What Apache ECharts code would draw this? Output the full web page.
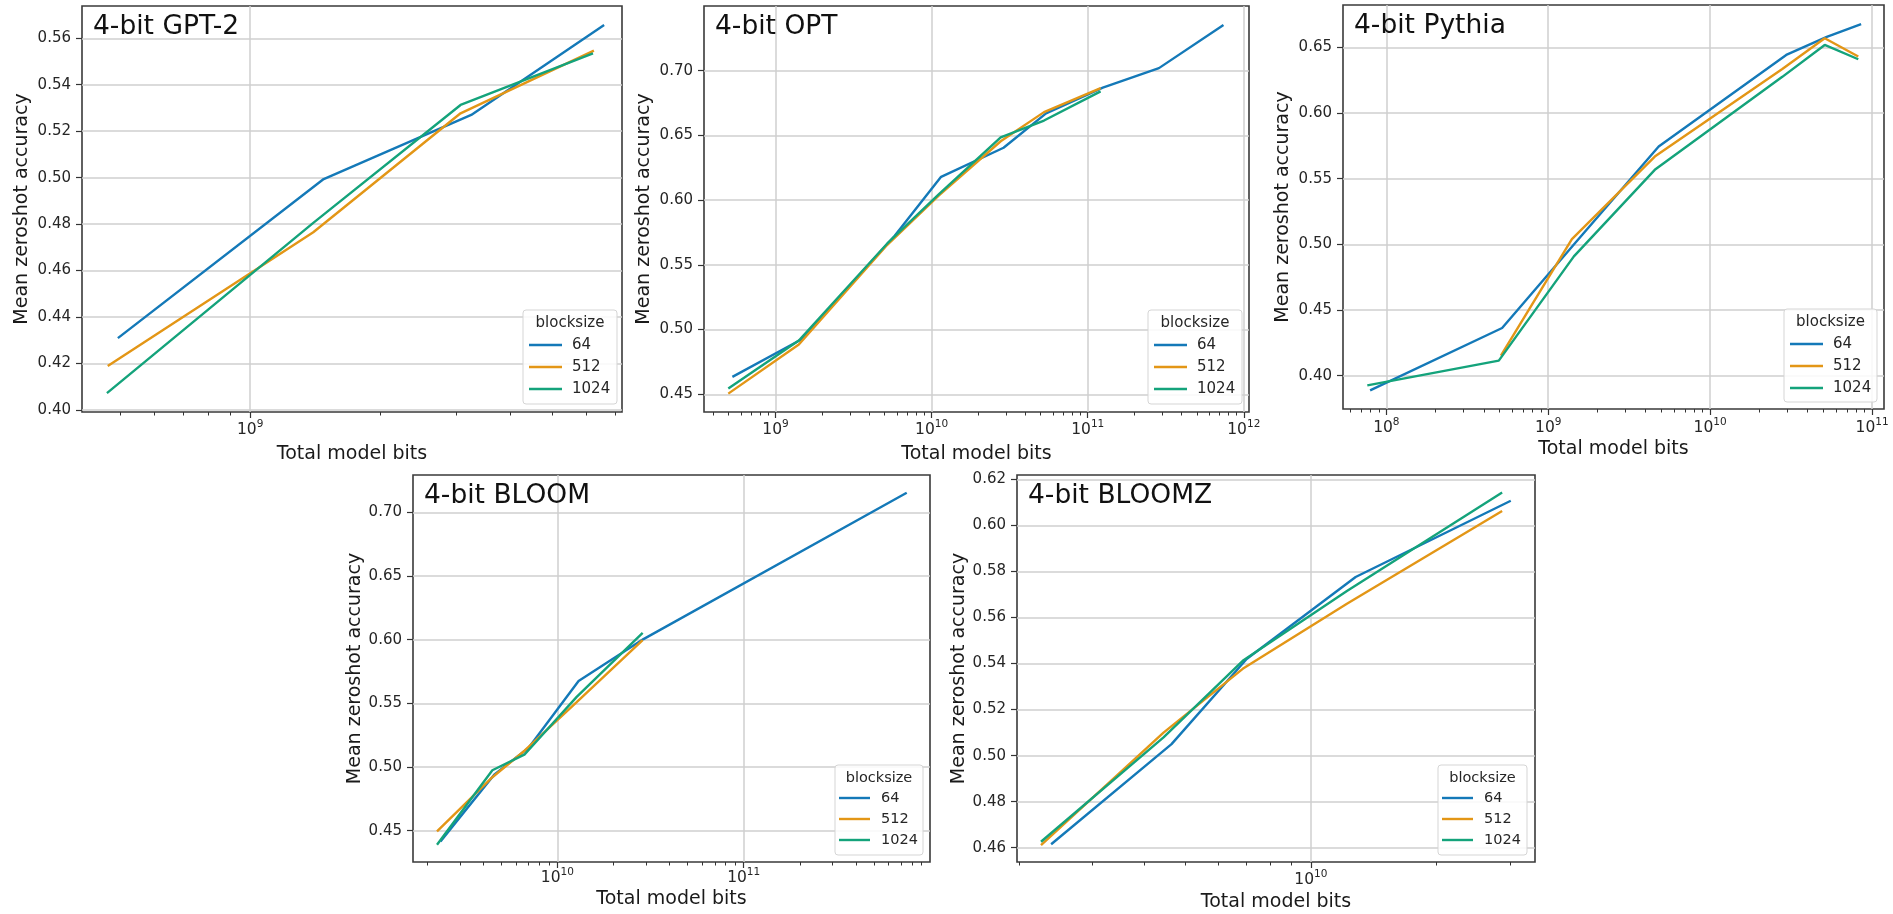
<!DOCTYPE html>
<html>
<head>
<meta charset="utf-8">
<script src="https://cdn.jsdelivr.net/npm/echarts@6.0.0/dist/echarts.min.js"></script>
<style>
html,body{margin:0;padding:0;background:#ffffff;}
#c{width:1893px;height:914px;}
</style>
</head>
<body>
<div id="c"></div>
<script>
// ---------------- DATA ----------------
const blocksizes = ['64', '512', '1024'];
const xAxisTitle = 'Total model bits';
const yAxisTitle = 'Mean zeroshot accuracy';
const legendTitle = 'blocksize';

// 4-bit GPT-2
const gpt2_x64   = [4.94e8, 1.48e9, 3.25e9, 6.60e9];
const gpt2_y64   = [0.4309, 0.4994, 0.5270, 0.5657];
const gpt2_x512  = [4.68e8, 1.40e9, 3.07e9, 6.25e9];
const gpt2_y512  = [0.4189, 0.4765, 0.5277, 0.5547];
const gpt2_x1024 = [4.66e8, 1.40e9, 3.07e9, 6.22e9];
const gpt2_y1024 = [0.4072, 0.4805, 0.5313, 0.5535];
const gpt2_xTicks = [1e9];
const gpt2_yTicks = [0.40, 0.42, 0.44, 0.46, 0.48, 0.50, 0.52, 0.54, 0.56];

// 4-bit OPT
const opt_x64   = [5.29e8, 1.47e9, 5.8e9, 1.15e10, 2.89e10, 5.41e10, 1.25e11, 2.86e11, 7.41e11];
const opt_y64   = [0.4634, 0.4925, 0.5725, 0.6180, 0.6405, 0.6670, 0.6870, 0.7020, 0.7353];
const opt_x512  = [4.98e8, 1.41e9, 5.2e9, 1.11e10, 2.77e10, 5.25e10, 1.21e11];
const opt_y512  = [0.4505, 0.4885, 0.5655, 0.6035, 0.6455, 0.6680, 0.6865];
const opt_x1024 = [4.98e8, 1.41e9, 5.2e9, 1.11e10, 2.77e10, 5.25e10, 1.21e11];
const opt_y1024 = [0.4544, 0.4915, 0.5665, 0.6045, 0.6485, 0.6615, 0.6840];
const opt_xTicks = [1e9, 1e10, 1e11, 1e12];
const opt_yTicks = [0.45, 0.50, 0.55, 0.60, 0.65, 0.70];

// 4-bit Pythia
const pythia_x64   = [7.94e7, 5.19e8, 1.48e9, 4.81e9, 2.95e10, 5.25e10, 8.56e10];
const pythia_y64   = [0.3888, 0.4363, 0.5015, 0.5744, 0.6442, 0.6580, 0.6677];
const pythia_x512  = [5.10e8, 1.40e9, 4.55e9, 2.79e10, 5.10e10, 8.22e10];
const pythia_y512  = [0.4152, 0.5040, 0.5668, 0.6335, 0.6569, 0.6430];
const pythia_x1024 = [7.63e7, 4.95e8, 1.44e9, 4.55e9, 2.79e10, 5.10e10, 8.22e10];
const pythia_y1024 = [0.3926, 0.4114, 0.4908, 0.5567, 0.6275, 0.6518, 0.6409];
const pythia_xTicks = [1e8, 1e9, 1e10, 1e11];
const pythia_yTicks = [0.40, 0.45, 0.50, 0.55, 0.60, 0.65];

// 4-bit BLOOM
const bloom_x64   = [2.36e9, 4.58e9, 7.0e9, 1.30e10, 2.90e10, 7.5e11];
const bloom_y64   = [0.4416, 0.4940, 0.5150, 0.5676, 0.6005, 0.7155];
const bloom_x512  = [2.26e9, 4.48e9, 6.69e9, 1.27e10, 2.87e10];
const bloom_y512  = [0.4495, 0.4920, 0.5130, 0.5510, 0.5996];
const bloom_x1024 = [2.26e9, 4.48e9, 6.69e9, 1.27e10, 2.87e10];
const bloom_y1024 = [0.4390, 0.4975, 0.5100, 0.5551, 0.6054];
const bloom_xTicks = [1e10, 1e11];
const bloom_yTicks = [0.45, 0.50, 0.55, 0.60, 0.65, 0.70];

// 4-bit BLOOMZ
const bloomz_x64   = [2.39e9, 4.64e9, 7.02e9, 1.28e10, 3.01e10];
const bloomz_y64   = [0.4615, 0.5050, 0.5420, 0.5776, 0.6107];
const bloomz_x512  = [2.26e9, 4.44e9, 6.87e9, 1.22e10, 2.87e10];
const bloomz_y512  = [0.4611, 0.5100, 0.5377, 0.5660, 0.6063];
const bloomz_x1024 = [2.26e9, 4.44e9, 6.87e9, 1.22e10, 2.87e10];
const bloomz_y1024 = [0.4626, 0.5079, 0.5412, 0.5715, 0.6143];
const bloomz_xTicks = [1e10];
const bloomz_yTicks = [0.46, 0.48, 0.50, 0.52, 0.54, 0.56, 0.58, 0.60, 0.62];

// ---------------- LAYOUT / STYLE ----------------
const FONT = 'DejaVu Sans';
const COLORS = ['#1479b8', '#e39616', '#14a37b'];
const TXT = '#262626';

const panels = [
  { title: '4-bit GPT-2', xs: [gpt2_x64, gpt2_x512, gpt2_x1024], ys: [gpt2_y64, gpt2_y512, gpt2_y1024],
    xTicks: gpt2_xTicks, yTicks: gpt2_yTicks, xRange: [4.08e8, 7.26e9], yRange: [0.3991, 0.5739],
    grid: { left: 82, top: 6, width: 540, height: 406 }, gapX: 33, gapY: 50, xMargin: 7,
    box: { x: 523, y: 310, w: 94, h: 94 }, lf: 15, row: 22, first: 35, hx: 6, hl: 33, tx: 49 },
  { title: '4-bit OPT', xs: [opt_x64, opt_x512, opt_x1024], ys: [opt_y64, opt_y512, opt_y1024],
    xTicks: opt_xTicks, yTicks: opt_yTicks, xRange: [3.48e8, 1.08e12], yRange: [0.4363, 0.750],
    grid: { left: 704, top: 6, width: 545, height: 406 }, gapX: 33, gapY: 50, xMargin: 7,
    box: { x: 1148, y: 310, w: 94, h: 94 }, lf: 15, row: 22, first: 35, hx: 6, hl: 33, tx: 49 },
  { title: '4-bit Pythia', xs: [pythia_x64, pythia_x512, pythia_x1024], ys: [pythia_y64, pythia_y512, pythia_y1024],
    xTicks: pythia_xTicks, yTicks: pythia_yTicks, xRange: [5.4e7, 1.185e11], yRange: [0.3746, 0.6822],
    grid: { left: 1343, top: 5, width: 541, height: 404 }, gapX: 31, gapY: 50, xMargin: 8,
    box: { x: 1784, y: 309, w: 93, h: 93 }, lf: 15, row: 22, first: 35, hx: 6, hl: 33, tx: 49 },
  { title: '4-bit BLOOM', xs: [bloom_x64, bloom_x512, bloom_x1024], ys: [bloom_y64, bloom_y512, bloom_y1024],
    xTicks: bloom_xTicks, yTicks: bloom_yTicks, xRange: [1.68e9, 1.0e12], yRange: [0.4254, 0.7294],
    grid: { left: 413, top: 475, width: 517, height: 387 }, gapX: 28, gapY: 46, xMargin: 5,
    box: { x: 835, y: 765, w: 88, h: 90 }, lf: 14.5, row: 21, first: 33, hx: 4, hl: 31, tx: 46 },
  { title: '4-bit BLOOMZ', xs: [bloomz_x64, bloomz_x512, bloomz_x1024], ys: [bloomz_y64, bloomz_y512, bloomz_y1024],
    xTicks: bloomz_xTicks, yTicks: bloomz_yTicks, xRange: [1.98e9, 3.44e10], yRange: [0.4538, 0.6219],
    grid: { left: 1017, top: 475, width: 518, height: 387 }, gapX: 31, gapY: 46, xMargin: 7,
    box: { x: 1438, y: 765, w: 89, h: 90 }, lf: 14.5, row: 21, first: 33, hx: 4, hl: 31, tx: 46 }
];

function minorTicks(min, max) {
  const out = [];
  for (let e = Math.floor(Math.log10(min)); e <= Math.ceil(Math.log10(max)); e++) {
    for (let m = 2; m <= 9; m++) {
      const v = m * Math.pow(10, e);
      if (v > min && v < max) out.push(v);
    }
  }
  return out;
}

const grids = [], xAxes = [], yAxes = [], series = [], graphics = [];

panels.forEach((p, i) => {
  const g = p.grid;
  grids.push({
    left: g.left, top: g.top, width: g.width, height: g.height,
    show: true, borderColor: '#3a3a3a', borderWidth: 1.6, backgroundColor: 'transparent',
    containLabel: false, outerBoundsMode: 'none'
  });
  // major log x axis
  xAxes.push({
    type: 'log', logBase: 10, gridIndex: i, position: 'bottom',
    min: p.xRange[0], max: p.xRange[1],
    name: xAxisTitle, nameLocation: 'middle', nameGap: p.gapX,
    nameTextStyle: { fontFamily: FONT, fontSize: 19, color: '#1a1a1a' },
    axisLine: { show: false },
    axisTick: { show: true, customValues: p.xTicks, length: 6, lineStyle: { color: '#333', width: 1.2 } },
    axisLabel: {
      show: true, customValues: p.xTicks, margin: p.xMargin,
      formatter: v => '{b|10}{s|' + Math.round(Math.log10(v)) + '}',
      rich: {
        b: { fontFamily: FONT, fontSize: 15.5, color: TXT, lineHeight: 19, verticalAlign: 'bottom' },
        s: { fontFamily: FONT, fontSize: 10.5, color: TXT, lineHeight: 19, verticalAlign: 'top' }
      }
    },
    splitLine: { show: true, lineStyle: { color: '#cfcfcf', width: 1.5 } }
  });
  // minor tick axis (decoration only)
  xAxes.push({
    type: 'log', logBase: 10, gridIndex: i, position: 'bottom',
    min: p.xRange[0], max: p.xRange[1],
    axisLine: { show: false },
    axisTick: { show: true, customValues: minorTicks(p.xRange[0], p.xRange[1]), length: 3.5, lineStyle: { color: '#333', width: 1 } },
    axisLabel: { show: false }, splitLine: { show: false }
  });
  yAxes.push({
    type: 'value', gridIndex: i, position: 'left',
    min: p.yRange[0], max: p.yRange[1],
    name: yAxisTitle, nameLocation: 'middle', nameGap: p.gapY, nameRotate: 90,
    nameTextStyle: { fontFamily: FONT, fontSize: 19, color: '#1a1a1a' },
    axisLine: { show: false },
    axisTick: { show: true, customValues: p.yTicks, length: 6, lineStyle: { color: '#333', width: 1.2 } },
    axisLabel: { show: true, customValues: p.yTicks, margin: 11, fontFamily: FONT, fontSize: 15, color: TXT,
      formatter: v => Number(v).toFixed(2) },
    splitLine: { show: true, lineStyle: { color: '#cfcfcf', width: 1.5 } }
  });
  blocksizes.forEach((b, k) => {
    series.push({
      type: 'line', name: b, xAxisIndex: 2 * i, yAxisIndex: i,
      data: p.xs[k].map((x, j) => [x, p.ys[k][j]]),
      symbol: 'none', showSymbol: false, smooth: false,
      lineStyle: { color: COLORS[k], width: 2.4 }, itemStyle: { color: COLORS[k] },
      emphasis: { disabled: true }, animation: false, z: 3
    });
  });
  // legend box (drawn as graphic: frame, title, handles and labels)
  const bx = p.box;
  graphics.push({
    type: 'rect', z: 4,
    shape: { x: bx.x, y: bx.y, width: bx.w, height: bx.h, r: 3 },
    style: { fill: 'rgba(255,255,255,0.85)', stroke: '#d5d5d5', lineWidth: 1 }
  });
  graphics.push({
    type: 'text', z: 6,
    style: { text: legendTitle, x: bx.x + bx.w / 2, y: bx.y + 13, textAlign: 'center',
      textVerticalAlign: 'middle', verticalAlign: 'middle', font: p.lf + 'px "DejaVu Sans"', fill: TXT }
  });
  blocksizes.forEach((b, k) => {
    const yy = bx.y + p.first + k * p.row;
    graphics.push({
      type: 'line', z: 6,
      shape: { x1: bx.x + p.hx, y1: yy, x2: bx.x + p.hx + p.hl, y2: yy },
      style: { stroke: COLORS[k], lineWidth: 2.4 }
    });
    graphics.push({
      type: 'text', z: 6,
      style: { text: b, x: bx.x + p.tx, y: yy + 0.5, textAlign: 'left',
        textVerticalAlign: 'middle', verticalAlign: 'middle', font: p.lf + 'px "DejaVu Sans"', fill: TXT }
    });
  });
  graphics.push({
    type: 'text', z: 6,
    style: { text: p.title, x: g.left + 11, y: g.top + 21, textAlign: 'left',
      textVerticalAlign: 'middle', verticalAlign: 'middle', font: '26.5px "DejaVu Sans"', fill: '#111' }
  });
});

const chart = echarts.init(document.getElementById('c'), null, { renderer: 'canvas', width: 1893, height: 914 });
chart.setOption({
  animation: false,
  backgroundColor: '#ffffff',
  grid: grids, xAxis: xAxes, yAxis: yAxes, series: series, graphic: graphics
});
</script>
</body>
</html>
